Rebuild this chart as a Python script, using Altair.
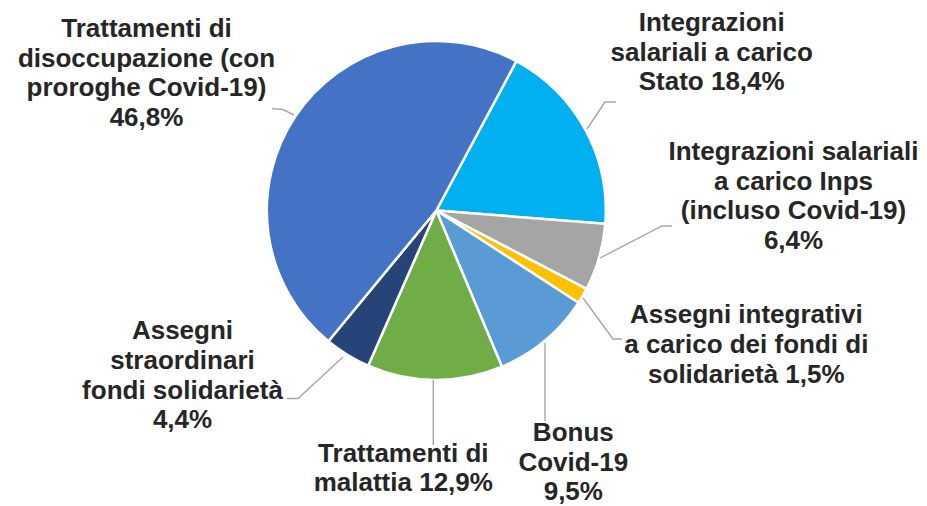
import math
import altair as alt
import pandas as pd

# ---- data ----
categories = [
    "Integrazioni salariali a carico Stato",
    "Integrazioni salariali a carico Inps (incluso Covid-19)",
    "Assegni integrativi a carico dei fondi di solidarietà",
    "Bonus Covid-19",
    "Trattamenti di malattia",
    "Assegni straordinari fondi solidarietà",
    "Trattamenti di disoccupazione (con proroghe Covid-19)",
]
values = [18.4, 6.4, 1.5, 9.5, 12.9, 4.4, 46.8]
label_texts = [
    "Integrazioni\nsalariali a carico\nStato 18,4%",
    "Integrazioni salariali\na carico Inps\n(incluso Covid-19)\n6,4%",
    "Assegni integrativi\na carico dei fondi di\nsolidarietà 1,5%",
    "Bonus\nCovid-19\n9,5%",
    "Trattamenti di\nmalattia 12,9%",
    "Assegni\nstraordinari\nfondi solidarietà\n4,4%",
    "Trattamenti di\ndisoccupazione (con\nproroghe Covid-19)\n46,8%",
]
colors = ["#00B0F0", "#A5A5A5", "#FFC000", "#5B9BD5", "#70AD47", "#264478", "#4472C4"]

# ---- layout (page pixel coordinates) ----
OFF = 8
W, H = 911, 498
CX, CY, R = 436.3, 210.5, 169.5
START_DEG = 28.2
label_pos = [  # center x, first baseline y
    (711.7, 31.0),
    (793.5, 160.0),
    (746.3, 323.3),
    (573.3, 441.0),
    (403.3, 461.7),
    (182.5, 339.3),
    (146.5, 37.0),
]
leaders = [
    [(616, 102), (605, 102), (587, 129)],
    [(672, 226), (662, 226), (600, 258)],
    [(583, 298), (613, 339), (622, 339)],
    [(545, 343), (545, 421)],
    [(433.3, 380), (433.3, 445)],
    [(343, 357), (298, 398.5), (287, 398.5)],
    [(272, 108.5), (283, 109.5), (294, 115)],
]

df = pd.DataFrame({"cat": categories, "value": values, "ord": list(range(len(values)))})

lab_df = pd.DataFrame({
    "cat": categories,
    "text": label_texts,
    "x": [p[0] - OFF for p in label_pos],
    "y": [p[1] - OFF for p in label_pos],
})

rows = []
for i, pts in enumerate(leaders):
    for j, (px, py) in enumerate(pts):
        rows.append({"cat": categories[i], "k": j, "x": px - OFF, "y": py - OFF})
line_df = pd.DataFrame(rows)

start = math.radians(START_DEG)
xs = alt.Scale(domain=[0, W], range=[0, W])
ys = alt.Scale(domain=[0, H], range=[0, H])

pie = alt.Chart(df).mark_arc(radius=R, stroke="white", strokeWidth=2.5).encode(
    theta=alt.Theta("value:Q", stack=True, scale=alt.Scale(range=[start, start + 2 * math.pi])),
    color=alt.Color("cat:N", scale=alt.Scale(domain=categories, range=colors), legend=None),
    order=alt.Order("ord:Q"),
    x=alt.value(CX - OFF),
    y=alt.value(CY - OFF),
)

lines = alt.Chart(line_df).mark_line(color="#A6A6A6", strokeWidth=1.4).encode(
    x=alt.X("x:Q", scale=xs, axis=None),
    y=alt.Y("y:Q", scale=ys, axis=None),
    detail="cat:N",
    order="k:Q",
)

labels = alt.Chart(lab_df).mark_text(
    font="Liberation Sans", fontWeight="bold", fontSize=26, color="#262626",
    align="center", baseline="alphabetic", lineBreak="\n", lineHeight=29.7,
).encode(
    x=alt.X("x:Q", scale=xs, axis=None),
    y=alt.Y("y:Q", scale=ys, axis=None),
    text="text:N",
)

chart = alt.layer(pie, lines, labels).properties(
    width=W, height=H, padding=0, autosize=alt.AutoSizeParams(type="none"),
).configure_view(stroke=None)

chart.save("out.html", embed_options={"renderer": "svg", "actions": False})
